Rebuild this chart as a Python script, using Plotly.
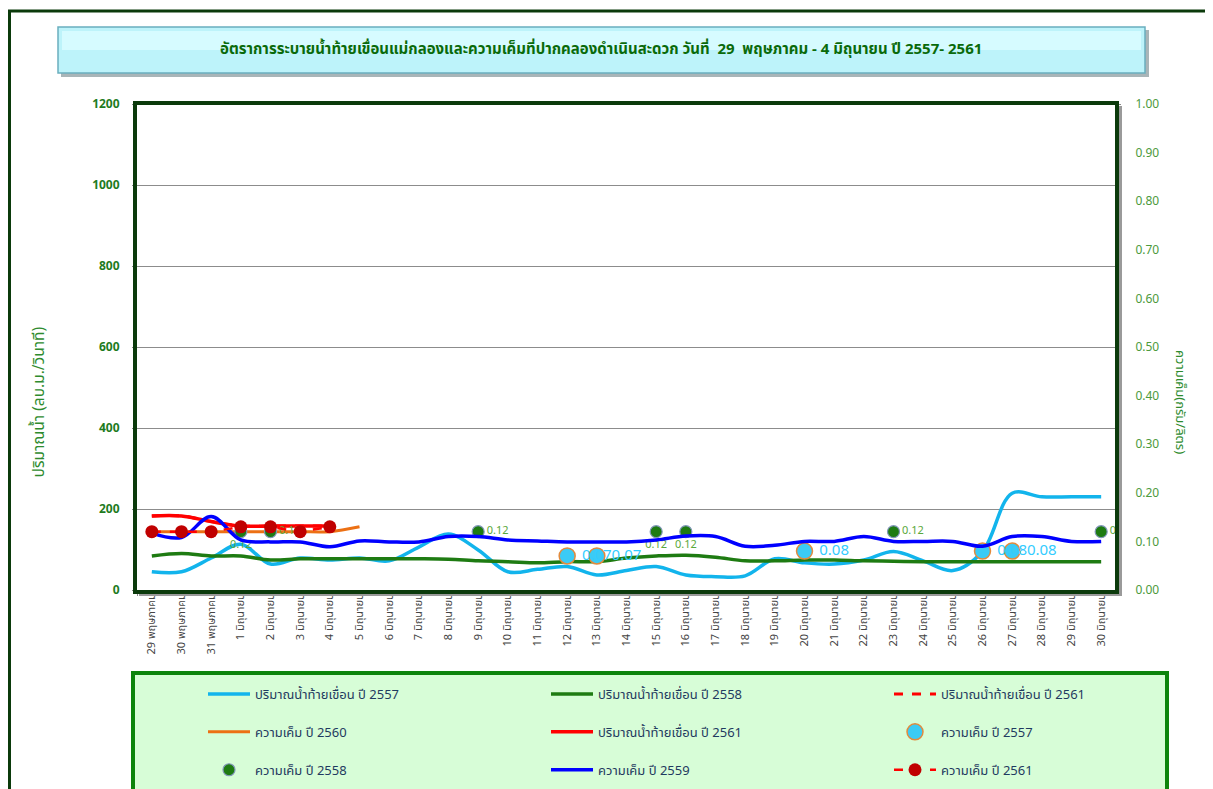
import plotly.graph_objects as go

# ---------------- data ----------------
dates = ["29 พฤษภาคม", "30 พฤษภาคม", "31 พฤษภาคม"] + [f"{d} มิถุนายน" for d in range(1, 31)]

flow_2557 = [45, 45, 79, 113, 64, 79, 74, 79, 72, 106, 138, 99, 45, 51, 58, 37, 48,
             58, 37, 33, 35, 77, 67, 64, 74, 95, 72, 48, 95, 239, 230, 230, 230]
flow_2558 = [84, 90, 84, 84, 74, 77, 77, 77, 77, 77, 76, 72, 70, 67, 70, 70, 79,
             84, 86, 81, 72, 72, 74, 74, 72, 71, 70, 70, 70, 70, 70, 70, 70]
flow_2561 = [183, 183, 169, 158, 158, 158, 158]

sal_2560 = [0.12, 0.12, 0.12, 0.12, 0.12, 0.12, 0.12, 0.13]
sal_2559 = [0.117, 0.108, 0.151, 0.103, 0.099, 0.099, 0.089, 0.101, 0.099, 0.099, 0.110,
            0.110, 0.103, 0.101, 0.099, 0.099, 0.099, 0.103, 0.111, 0.110, 0.090, 0.092,
            0.100, 0.100, 0.110, 0.100, 0.100, 0.100, 0.090, 0.110, 0.110, 0.100, 0.100]
sal_2561 = [0.12, 0.12, 0.12, 0.13, 0.13, 0.12, 0.13]

sal_2557_days = [14, 15, 22, 28, 29]          # category index
sal_2557 = [0.07, 0.07, 0.08, 0.08, 0.08]
sal_2558_days = [3, 4, 11, 17, 18, 25, 32]
sal_2558 = [0.12, 0.12, 0.12, 0.12, 0.12, 0.12, 0.12]
sal_2558_pos = ["bottom center", "middle right", "middle right", "bottom center",
                "bottom center", "middle right", "middle right"]

title_text = "อัตราการระบายน้ำท้ายเขื่อนแม่กลองและความเค็มที่ปากคลองดำเนินสะดวก วันที่  29  พฤษภาคม - 4 มิถุนายน ปี 2557- 2561"

# ---------------- layout geometry ----------------
OFF = 8                      # page body margin
W, H = 1213 - OFF, 789 - OFF
ML, MT = 137 - OFF, 104 - OFF
MR = W - (1116 - OFF)
MB = H - (590 - OFF)
PW, PH = W - ML - MR, H - MT - MB


def px(x):
    """screen x (reference pixels) -> paper x"""
    return (x - OFF - ML) / PW


def py(y):
    """screen y (reference pixels) -> paper y"""
    return (H - MB - (y - OFF)) / PH


FONT = "Tahoma, 'Noto Sans Thai', 'Noto Sans', sans-serif"

fig = go.Figure()

sub = lambda idx: [dates[i] for i in idx]

fig.add_trace(go.Scatter(x=dates, y=flow_2557, name="ปริมาณน้ำท้ายเขื่อน ปี 2557",
                         mode="lines", line=dict(color="#12B4EC", width=3.5, shape="spline"),
                         legend="legend", legendgroup="a"))
fig.add_trace(go.Scatter(x=dates, y=flow_2558, name="ปริมาณน้ำท้ายเขื่อน ปี 2558",
                         mode="lines", line=dict(color="#1E7B12", width=3.5, shape="spline"),
                         legend="legend2", legendgroup="b"))
fig.add_trace(go.Scatter(x=dates[:len(flow_2561)], y=flow_2561, name="ปริมาณน้ำท้ายเขื่อน ปี 2561",
                         mode="lines", line=dict(color="#FF0000", width=3, dash="dash", shape="spline"),
                         legend="legend3", legendgroup="c"))
fig.add_trace(go.Scatter(x=dates[:len(sal_2560)], y=sal_2560, name="ความเค็ม ปี 2560", yaxis="y2",
                         mode="lines", line=dict(color="#EC7014", width=3, shape="spline"),
                         legend="legend", legendgroup="d"))
fig.add_trace(go.Scatter(x=dates[:len(flow_2561)], y=flow_2561, name="ปริมาณน้ำท้ายเขื่อน ปี 2561",
                         mode="lines", line=dict(color="#FF0000", width=3.5, shape="spline"),
                         legend="legend2", legendgroup="e"))
fig.add_trace(go.Scatter(x=sub(sal_2557_days), y=sal_2557, name="ความเค็ม ปี 2557", yaxis="y2",
                         mode="markers",
                         marker=dict(color="#3BCBF5", size=16, line=dict(color="#E38A3C", width=1.5)),
                         legend="legend3", legendgroup="f"))
fig.add_trace(go.Scatter(x=sub(sal_2558_days), y=sal_2558, name="ความเค็ม ปี 2558", yaxis="y2",
                         mode="markers+text", text=[f"{v:.2f}" for v in sal_2558],
                         textposition=sal_2558_pos,
                         textfont=dict(color="#5AA83A", size=11, family=FONT),
                         marker=dict(color="#1E7B12", size=12, line=dict(color="#8096B8", width=1.2)),
                         legend="legend", legendgroup="g"))
fig.add_trace(go.Scatter(x=dates, y=sal_2559, name="ความเค็ม ปี 2559", yaxis="y2",
                         mode="lines", line=dict(color="#0000FF", width=3.5, shape="spline"),
                         legend="legend2", legendgroup="h"))
fig.add_trace(go.Scatter(x=dates[:len(sal_2561)], y=sal_2561, name="ความเค็ม ปี 2561", yaxis="y2",
                         mode="lines+markers", line=dict(color="#FF0000", width=2.5, dash="dash"),
                         marker=dict(color="#C00000", size=13),
                         legend="legend3", legendgroup="i"))
# data labels of 2557 salinity, drawn on top of all markers (invisible marker keeps the offset)
fig.add_trace(go.Scatter(x=sub(sal_2557_days), y=sal_2557, yaxis="y2", mode="markers+text",
                         marker=dict(size=22, color="rgba(0,0,0,0)"),
                         text=[f"{v:.2f}" for v in sal_2557], textposition="middle right",
                         textfont=dict(color="#33CCFF", size=15, family=FONT),
                         showlegend=False, hoverinfo="skip"))

shapes = [
    # outer frame
    dict(type="rect", xref="paper", yref="paper", x0=px(9.5), x1=px(1207), y0=py(800), y1=py(11),
         line=dict(color="#0B3A0B", width=3), layer="below"),
    # title box shadow + box
    dict(type="rect", xref="paper", yref="paper", x0=px(61), x1=px(1149), y0=py(77), y1=py(30),
         fillcolor="#A9B5B8", line=dict(width=0), layer="below"),
    dict(type="rect", xref="paper", yref="paper", x0=px(58), x1=px(1145), y0=py(73), y1=py(27),
         fillcolor="#BDF3FA", line=dict(color="#6AAFBE", width=1.5), layer="below"),
    dict(type="rect", xref="paper", yref="paper", x0=px(62), x1=px(1141), y0=py(50), y1=py(31),
         fillcolor="#D6FBFF", line=dict(width=0), layer="below"),
    # plot frame shadow (right / bottom)
    dict(type="rect", xref="paper", yref="paper", x0=px(1118), x1=px(1122), y0=py(596), y1=py(106),
         fillcolor="#9A9A9A", line=dict(width=0)),
    dict(type="rect", xref="paper", yref="paper", x0=px(139), x1=px(1122), y0=py(596), y1=py(592),
         fillcolor="#9A9A9A", line=dict(width=0)),
    # plot frame
    dict(type="rect", xref="paper", yref="paper", x0=px(135), x1=px(1117), y0=py(592), y1=py(103),
         line=dict(color="#0B3A0B", width=4)),
    # legend box
    dict(type="rect", xref="paper", yref="paper", x0=px(133), x1=px(1167), y0=py(800), y1=py(673),
         fillcolor="#D7FDD7", line=dict(color="#0C840C", width=4), layer="below"),
]

annotations = [
    dict(text=title_text, xref="paper", yref="paper", x=px(601), y=py(49), showarrow=False,
         font=dict(family=FONT, size=15, color="#0A6A0A", weight="bold"), xanchor="center", yanchor="middle"),
    dict(text="ปริมาณน้ำ (ลบ.ม./วินาที)", xref="paper", yref="paper", x=px(25), y=py(402),
         textangle=-90, showarrow=False, font=dict(family=FONT, size=15.5, color="#2E8B2E")),
    dict(text="ความเค็ม(กรัม/ลิตร)", xref="paper", yref="paper", x=px(1192), y=py(402),
         textangle=90, showarrow=False, font=dict(family=FONT, size=13, color="#2E8B2E")),
]

leg_common = dict(font=dict(family=FONT, size=13, color="#1F3A60"), bgcolor="rgba(0,0,0,0)",
                  tracegroupgap=18, yanchor="top", xanchor="left", orientation="v",
                  traceorder="grouped", itemwidth=42)

fig.update_layout(
    width=W, height=H,
    margin=dict(l=ML, r=MR, t=MT, b=MB, autoexpand=False),
    paper_bgcolor="white", plot_bgcolor="white",
    font=dict(family=FONT),
    showlegend=True,
    legend=dict(x=px(203), y=py(679), **leg_common),
    legend2=dict(x=px(546), y=py(679), **leg_common),
    legend3=dict(x=px(889), y=py(679), **leg_common),
    xaxis=dict(type="category", categoryorder="array", categoryarray=dates,
               range=[-0.5, len(dates) - 0.5], tickangle=-90, tickson="boundaries",
               ticks="outside", ticklen=5, tickcolor="#888", showgrid=False, showline=False,
               tickfont=dict(family=FONT, size=11, color="#444"), zeroline=False),
    yaxis=dict(range=[0, 1200], dtick=200, showgrid=True, gridcolor="#8C8C8C", gridwidth=1,
               ticks="outside", ticklen=4, tickcolor="#888", ticklabelstandoff=10,
               tickfont=dict(family=FONT, size=12, color="#1E7B1E", weight="bold"),
               zeroline=False, showline=False),
    yaxis2=dict(range=[0, 1.0], dtick=0.1, tickformat=".2f", overlaying="y", side="right",
                showgrid=False, ticks="outside", ticklen=4, tickcolor="#888", ticklabelstandoff=12,
                tickfont=dict(family=FONT, size=12, color="#4C9A3C"), zeroline=False, showline=False),
    shapes=shapes,
    annotations=annotations,
)

fig.write_html("out.html")
